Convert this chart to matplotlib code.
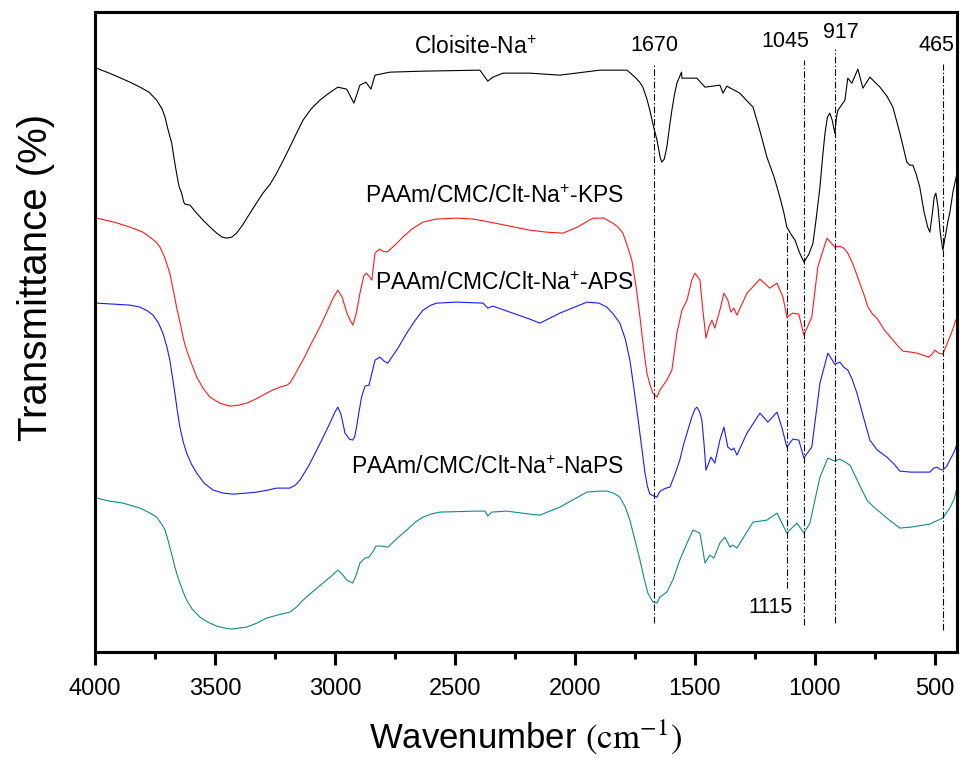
import matplotlib
matplotlib.use("Agg")
import matplotlib.pyplot as plt
from matplotlib.ticker import AutoMinorLocator

# FTIR spectra, wavenumber (cm-1) vs. offset transmittance (a.u.)
wn_clt = [3993, 3930, 3854, 3812, 3775, 3743, 3720, 3708, 3695, 3680, 3670, 3660, 3650,
          3639, 3630, 3625, 3604, 3580, 3550, 3520, 3493, 3470, 3451, 3430, 3410, 3385,
          3354, 3330, 3300, 3270, 3243, 3215, 3188, 3160, 3133, 3100, 3063, 3025, 2988,
          2951, 2921, 2896, 2871, 2850, 2833, 2771, 2633, 2396, 2363, 2342, 2300, 2188,
          2063, 1896, 1783, 1750, 1730, 1717, 1700, 1688, 1672, 1658, 1645, 1638, 1628,
          1617, 1606, 1596, 1585, 1575, 1556, 1554, 1492, 1458, 1396, 1383, 1367, 1313,
          1290, 1258, 1230, 1200, 1170, 1146, 1130, 1117, 1100, 1083, 1065, 1046, 1025,
          1008, 995, 979, 968, 958, 948, 938, 928, 917, 910, 904, 875, 863, 846, 821,
          800, 771, 729, 700, 675, 646, 630, 617, 605, 592, 578, 563, 545, 530, 521, 510,
          503, 496, 487, 478, 467, 455, 445, 438, 425, 408]
t_clt = [584, 578, 570, 565, 560, 552, 543, 535, 522, 509, 493, 479, 466,
         459, 450, 448, 447, 440, 432, 425, 419, 415, 414, 415, 419, 427,
         439, 448, 459, 468, 479, 492, 505, 519, 532, 543, 552, 559, 565,
         563, 549, 567, 570, 563, 577, 580, 581, 582, 571, 575, 579, 579,
         577, 582, 582, 575, 570, 565, 553, 542, 525, 512, 495, 490, 493,
         505, 525, 542, 558, 569, 580, 574, 574, 565, 567, 559, 566, 559,
         553, 545, 522, 495, 475, 455, 440, 425, 418, 412, 400, 390, 398,
         409, 433, 465, 495, 519, 535, 539, 532, 519, 535, 542, 552, 574, 569, 583,
         564, 575, 565, 556, 545, 519, 503, 490, 487, 487, 478, 465, 440, 425, 420, 440,
         455, 459, 445, 420, 402, 418, 432, 439, 460, 479]

wn_kps = [3993, 3920, 3854, 3800, 3771, 3745, 3729, 3710, 3688, 3672, 3660, 3646, 3630,
          3618, 3600, 3576, 3550, 3521, 3480, 3438, 3400, 3368, 3330, 3300, 3260, 3229,
          3200, 3188, 3170, 3150, 3133, 3100, 3063, 3030, 3010, 2988, 2970, 2950, 2935,
          2925, 2910, 2895, 2880, 2870, 2858, 2846, 2840, 2833, 2815, 2800, 2783, 2750,
          2717, 2680, 2633, 2580, 2492, 2420, 2354, 2270, 2188, 2120, 2050, 1990, 1925,
          1880, 1842, 1820, 1800, 1780, 1763, 1745, 1729, 1712, 1700, 1688, 1675, 1658,
          1646, 1617, 1596, 1575, 1554, 1533, 1513, 1500, 1479, 1467, 1454, 1442, 1429,
          1417, 1396, 1379, 1363, 1350, 1338, 1325, 1283, 1229, 1188, 1158, 1133, 1117,
          1092, 1067, 1046, 1013, 988, 950, 917, 896, 880, 863, 840, 813, 795, 779, 760,
          742, 710, 675, 650, 633, 600, 575, 550, 525, 512, 500, 485, 467, 455, 438, 425,
          413]
t_kps = [434, 430, 425, 420, 415, 410, 405, 395, 379, 360, 345, 330, 312,
         302, 290, 275, 264, 255, 249, 246, 247, 249, 253, 257, 262, 265,
         267, 269, 276, 285, 292, 308, 325, 342, 353, 362, 355, 339, 331,
         327, 340, 360, 376, 379, 376, 372, 385, 399, 403, 401, 400, 407,
         415, 423, 430, 433, 434, 433, 430, 426, 422, 420, 419, 425, 434,
         434, 429, 425, 419, 405, 392, 365, 335, 300, 279, 268, 259, 255,
         262, 272, 282, 319, 342, 352, 372, 379, 372, 342, 314, 325, 332,
         324, 342, 359, 352, 340, 344, 337, 359, 373, 364, 369, 355, 335,
         339, 338, 317, 335, 385, 414, 405, 406, 404, 399, 387, 369, 357, 345, 338,
         334, 322, 312, 305, 301, 300, 299, 297, 295, 298, 302, 299, 298, 305, 315, 323,
         332]

wn_aps = [3993, 3920, 3854, 3812, 3780, 3758, 3735, 3717, 3700, 3688, 3677, 3667, 3656,
          3646, 3632, 3618, 3598, 3576, 3545, 3508, 3465, 3425, 3370, 3326, 3280, 3243,
          3210, 3188, 3165, 3146, 3110, 3076, 3045, 3021, 3000, 2988, 2975, 2958, 2940,
          2926, 2918, 2910, 2900, 2889, 2875, 2858, 2845, 2833, 2813, 2795, 2780, 2740,
          2701, 2665, 2633, 2600, 2576, 2493, 2383, 2363, 2342, 2271, 2188, 2146, 2063,
          1950, 1900, 1867, 1840, 1813, 1790, 1771, 1755, 1738, 1722, 1708, 1698, 1688,
          1670, 1658, 1648, 1638, 1620, 1604, 1583, 1563, 1548, 1533, 1513, 1500, 1492,
          1480, 1471, 1462, 1454, 1433, 1417, 1396, 1379, 1363, 1346, 1338, 1325, 1283,
          1229, 1196, 1158, 1138, 1117, 1092, 1067, 1046, 1013, 979, 946, 917, 896, 880,
          863, 845, 825, 800, 771, 740, 700, 670, 646, 600, 521, 505, 492, 480, 467, 450,
          438, 420, 408]
t_aps = [349, 348, 347, 345, 341, 337, 329, 319, 305, 292, 275, 259, 240,
         225, 210, 199, 188, 179, 169, 162, 159, 158, 159, 160, 162, 164,
         164, 164, 167, 172, 186, 202, 217, 229, 240, 245, 238, 219, 213,
         212, 215, 225, 240, 255, 266, 267, 280, 292, 295, 291, 289, 303,
         319, 332, 342, 347, 349, 350, 349, 344, 346, 340, 333, 329, 339,
         350, 349, 345, 338, 329, 313, 292, 265, 235, 205, 179, 166, 158,
         156, 155, 160, 162, 164, 165, 178, 192, 207, 219, 235, 243, 245,
         240, 232, 208, 182, 195, 189, 212, 225, 205, 202, 204, 197, 219,
         239, 230, 240, 225, 205, 213, 212, 194, 205, 269, 299, 288, 290, 285,
         282, 273, 259, 237, 212, 202, 195, 188, 181, 180, 180, 184, 185, 183, 182, 186,
         192, 200, 208]

wn_naps = [3993, 3940, 3883, 3812, 3770, 3743, 3722, 3708, 3698, 3688, 3677, 3667, 3656,
           3646, 3632, 3618, 3595, 3563, 3530, 3493, 3460, 3430, 3400, 3368, 3325, 3285,
           3240, 3188, 3160, 3133, 3090, 3050, 3015, 2988, 2970, 2951, 2926, 2910, 2896,
           2875, 2858, 2840, 2829, 2806, 2779, 2740, 2701, 2665, 2633, 2600, 2563, 2410,
           2375, 2363, 2347, 2285, 2188, 2146, 2063, 1950, 1900, 1867, 1840, 1813, 1790,
           1771, 1750, 1729, 1712, 1696, 1675, 1658, 1646, 1617, 1592, 1563, 1533, 1508,
           1479, 1458, 1438, 1421, 1396, 1375, 1354, 1342, 1325, 1258, 1200, 1158, 1117,
           1075, 1046, 1021, 979, 946, 917, 896, 875, 854, 820, 783, 755, 729, 690, 646,
           600, 521, 495, 467, 450, 438, 420, 408]
t_naps = [154, 151, 149, 144, 139, 135, 128, 122, 114, 105, 95, 85, 76,
          69, 60, 52, 43, 35, 30, 26, 24, 23, 24, 25, 29, 34,
          37, 40, 45, 52, 61, 69, 76, 82, 78, 72, 69, 78, 89,
          94, 95, 101, 106, 106, 105, 114, 122, 130, 135, 138, 140, 141,
          141, 136, 140, 141, 138, 137, 145, 160, 161, 161, 159, 155, 145,
          132, 112, 92, 74, 59, 50, 49, 55, 60, 72, 92, 109, 122,
          119, 89, 97, 94, 109, 115, 105, 107, 104, 130, 132, 139, 119,
          129, 119, 129, 175, 194, 191, 193, 190, 187, 170, 152, 145, 140, 132, 124,
          125, 128, 131, 134, 140, 144, 153, 164]

# marked bands: label, drawn from/to (a.u.)
band_pos = [1670, 1115, 1045, 917, 465]
band_lo = [29, 64, 27, 29, 22]
band_hi = [587, 420, 592, 603, 588]

plt.rcParams["font.family"] = ["Liberation Sans", "DejaVu Sans"]
plt.rcParams["mathtext.fontset"] = "custom"
plt.rcParams["mathtext.rm"] = "Liberation Sans"
plt.rcParams["mathtext.default"] = "rm"

fig = plt.figure(figsize=(9.69, 7.6), dpi=100)
ax = fig.add_axes([0.098, 0.142, 0.8896, 0.842])

ax.plot(wn_clt, t_clt, color="black", lw=0.8)
ax.plot(wn_kps, t_kps, color="#ff1a1a", lw=0.8)
ax.plot(wn_aps, t_aps, color="#1a1aff", lw=0.8)
ax.plot(wn_naps, t_naps, color="#138a8a", lw=0.8)

for x, lo, hi in zip(band_pos, band_lo, band_hi):
    ax.plot([x, x], [lo, hi], color="black", lw=0.8, ls=(0, (6, 2, 1.2, 2)))

fs = 15.5
ax.text(1670, 607, "1670", ha="center", va="center", fontsize=fs)
ax.text(1125, 611, "1045", ha="center", va="center", fontsize=fs)
ax.text(892, 620, "917", ha="center", va="center", fontsize=fs)
ax.text(492, 607, "465", ha="center", va="center", fontsize=fs)
ax.text(1183, 45, "1115", ha="center", va="center", fontsize=fs)

fs2 = 16.5
ax.text(2417, 605, "Cloisite-Na$^{+}$", ha="center", va="center", fontsize=fs2)
ax.text(2337, 456, "PAAm/CMC/Clt-Na$^{+}$-KPS", ha="center", va="center", fontsize=fs2)
ax.text(2292, 369, "PAAm/CMC/Clt-Na$^{+}$-APS", ha="center", va="center", fontsize=fs2)
ax.text(2363, 185, "PAAm/CMC/Clt-Na$^{+}$-NaPS", ha="center", va="center", fontsize=fs2)

ax.set_xlim(4000, 408)
ax.set_ylim(0, 640)
ax.set_xticks([4000, 3500, 3000, 2500, 2000, 1500, 1000, 500])
ax.xaxis.set_minor_locator(AutoMinorLocator(2))
ax.set_yticks([])
for s in ax.spines.values():
    s.set_linewidth(2.2)
ax.tick_params(axis="x", which="major", length=9, width=2.2, pad=10, labelsize=17)
ax.tick_params(axis="x", which="minor", length=5, width=2.2)

ax.set_xlabel("Wavenumber $(\\mathrm{cm}^{-1})$", fontsize=25,
              math_fontfamily="stix", labelpad=12)
ax.set_ylabel("Transmittance (%)", fontsize=29)
ax.yaxis.set_label_coords(-0.046, 0.586)

fig.savefig("out.png", dpi=100)
